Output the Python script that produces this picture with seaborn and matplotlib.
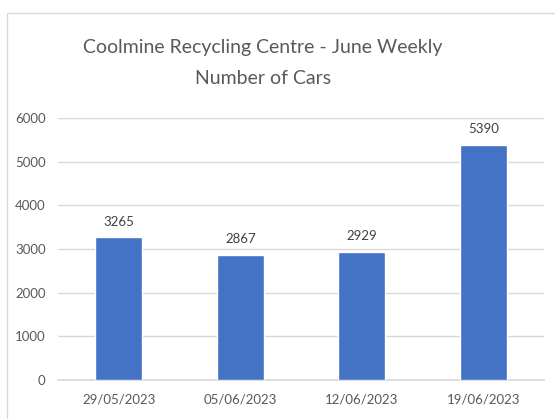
import matplotlib
matplotlib.use("Agg")
import matplotlib.pyplot as plt
import seaborn as sns
import pandas as pd
from matplotlib.patches import Rectangle

weeks = ["29/05/2023", "05/06/2023", "12/06/2023", "19/06/2023"]
cars = [3265, 2867, 2929, 5390]
yticks = [0, 1000, 2000, 3000, 4000, 5000, 6000]

sns.set_theme(style="white")
plt.rcParams['font.family'] = ['Lato', 'DejaVu Sans']

df = pd.DataFrame({"week": weeks, "cars": cars})

fig = plt.figure(figsize=(5.55, 4.19), dpi=100)
ax = fig.add_axes([58/555, 1-380/419, 486/555, (380-118)/419])

sns.barplot(data=df, x="week", y="cars", color="#4472C4", saturation=1, width=0.39, ax=ax, zorder=3)

ax.set_ylim(0, 6000)
ax.set_yticks(yticks)
ax.set_yticklabels([str(v) for v in yticks])
ax.yaxis.grid(True, color="#D9D9D9", linewidth=1)
ax.set_axisbelow(True)
for s in ["top", "right", "left"]:
    ax.spines[s].set_visible(False)
ax.spines["bottom"].set_color("#D9D9D9")
ax.set_xlabel("")
ax.set_ylabel("")
ax.tick_params(axis="both", length=0, labelsize=9.5, colors="#595959")
ax.tick_params(axis="x", pad=10)
ax.tick_params(axis="y", pad=9)

for i, v in enumerate(cars):
    ax.annotate(str(v), (i, v), xytext=(0, 7), textcoords="offset points",
                ha="center", va="bottom", fontsize=9.5, color="#404040")

fig.text(263/555, 1-47/419, "Coolmine Recycling Centre - June Weekly", ha="center", va="center",
         fontsize=14, color="#595959")
fig.text(263/555, 1-79/419, "Number of Cars", ha="center", va="center",
         fontsize=14, color="#595959")

fig.patches.append(Rectangle((7/555, -0.1), 1.2, 1-13/419+0.1, transform=fig.transFigure,
                             fill=False, edgecolor="#D9D9D9", linewidth=1))

fig.savefig("out.png", dpi=100)
